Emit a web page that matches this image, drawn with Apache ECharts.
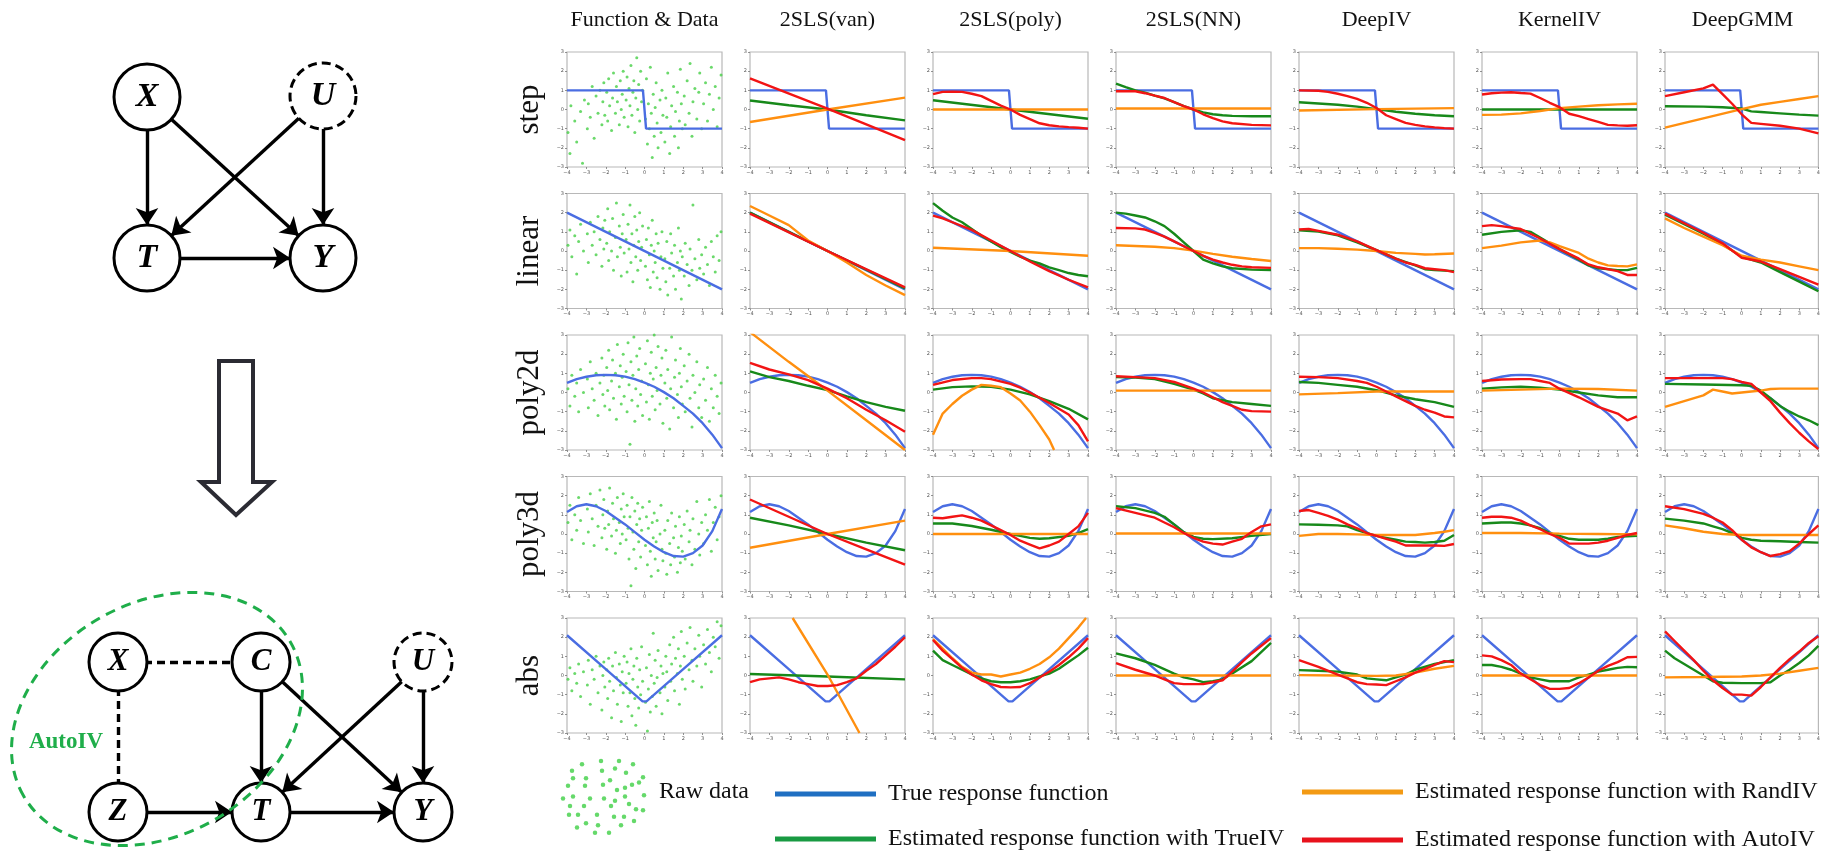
<!DOCTYPE html>
<html>
<head>
<meta charset="utf-8">
<script src="https://cdn.jsdelivr.net/npm/echarts@6/dist/echarts.min.js"></script>
<style>
  html, body { margin: 0; padding: 0; background: #fff; }
  #chart { width: 1823px; height: 852px; }
</style>
</head>
<body>
<div id="chart"></div>
<script>
// ---- labels ----
const methods = ['Function & Data', '2SLS(van)', '2SLS(poly)', '2SLS(NN)', 'DeepIV', 'KernelIV', 'DeepGMM'];
const functions = ['step', 'linear', 'poly2d', 'poly3d', 'abs'];
const legendLabels = ['Raw data', 'True response function', 'Estimated response function with TrueIV',
  'Estimated response function with RandIV', 'Estimated response function with AutoIV'];

// ---- true response functions ----
const trueStep = [[-4, 1], [-0.08, 1], [0.08, -1], [4, -1]];
const trueLinear = [[-4, 2], [4, -2]];
const truePoly2d = [[-4, 0.5], [-3.5, 0.7], [-3, 0.82], [-2.5, 0.9], [-2, 0.92], [-1.5, 0.9], [-1, 0.83], [-0.5, 0.7], [0, 0.52], [0.5, 0.3], [1, 0.02], [1.5, -0.3], [2, -0.7], [2.5, -1.1], [3, -1.6], [3.5, -2.2], [4, -2.9]];
const truePoly3d = [[-4, 1.15], [-3.5, 1.45], [-3, 1.55], [-2.5, 1.45], [-2, 1.2], [-1.5, 0.85], [-1, 0.5], [-0.5, 0.1], [0, -0.3], [0.5, -0.65], [1, -0.95], [1.5, -1.15], [2, -1.18], [2.5, -1.0], [3, -0.6], [3.5, 0.15], [4, 1.3]];
const trueAbs = [[-4, 2.1], [-2, 0.33], [-0.1, -1.35], [0, -1.45], [0.1, -1.35], [2, 0.33], [4, 2.1]];

// ---- estimates, one curve per method: van, poly, NN, DeepIV, KernelIV, DeepGMM ----
const trueIvStep = [
  [[-4, 0.47], [-2, 0.22], [0, 0], [2, -0.3], [4, -0.57]],
  [[-4, 0.48], [0, 0], [4, -0.48]],
  [[-4, 1.35], [-3.5, 1.17], [-3, 1.0], [-2.5, 0.88], [-2, 0.72], [-1.5, 0.58], [-1, 0.38], [-0.5, 0.18], [0, 0], [0.5, -0.15], [1, -0.25], [1.5, -0.3], [2, -0.33], [3, -0.35], [4, -0.35]],
  [[-4, 0.38], [-2, 0.25], [-1, 0.15], [0, 0.02], [1, -0.12], [2, -0.22], [3, -0.3], [4, -0.35]],
  [[-4, 0], [4, 0]],
  [[-4, 0.17], [-2, 0.15], [-1, 0.12], [0, 0.05], [0.5, -0.1], [1, -0.13], [2, -0.2], [3, -0.27], [4, -0.32]]
];
const randIvStep = [
  [[-4, -0.65], [0, 0], [4, 0.62]],
  [[-4, 0], [4, 0]],
  [[-4, 0.05], [4, 0.05]],
  [[-4, -0.05], [0, 0.02], [4, 0.07]],
  [[-4, -0.28], [-3, -0.27], [-2, -0.2], [-1, -0.08], [0, 0.07], [1, 0.15], [2, 0.22], [3, 0.27], [4, 0.3]],
  [[-4, -0.95], [0, 0.02], [1, 0.25], [2, 0.4], [3, 0.55], [4, 0.7]]
];
const autoIvStep = [
  [[-4, 1.62], [0, 0.05], [4, -1.6]],
  [[-4, 0.8], [-3.5, 0.92], [-3, 0.93], [-2.5, 0.92], [-2, 0.82], [-1.5, 0.7], [-1, 0.45], [-0.5, 0.2], [0, 0], [0.5, -0.28], [1, -0.5], [1.5, -0.72], [2, -0.82], [2.5, -0.88], [3, -0.92], [3.5, -0.95], [4, -1]],
  [[-4, 0.95], [-3, 0.95], [-2.5, 0.85], [-2, 0.72], [-1.5, 0.6], [-1, 0.38], [-0.5, 0.18], [0, 0], [0.5, -0.25], [1, -0.45], [1.5, -0.62], [2, -0.72], [3, -0.8], [4, -0.83]],
  [[-4, 1], [-3, 0.98], [-2.5, 0.92], [-2, 0.82], [-1.5, 0.7], [-1, 0.55], [-0.5, 0.35], [0, 0.08], [0.5, -0.3], [1, -0.5], [1.5, -0.7], [2, -0.8], [2.5, -0.88], [3, -0.93], [3.5, -0.97], [4, -1]],
  [[-4, 0.78], [-3.5, 0.85], [-3, 0.88], [-2.5, 0.9], [-2, 0.86], [-1.5, 0.83], [-1, 0.6], [-0.5, 0.35], [0, 0.12], [0.5, -0.22], [1, -0.35], [1.5, -0.5], [2, -0.65], [2.5, -0.8], [3, -0.83], [3.5, -0.85], [4, -0.82]],
  [[-4, 0.7], [-3, 0.9], [-2, 1.1], [-1.5, 1.3], [-1, 0.8], [-0.5, 0.3], [0, -0.25], [0.5, -0.7], [1, -0.75], [2, -0.85], [3, -1.0], [4, -1.25]]
];

const trueIvLinear = [
  [[-4, 2.0], [0, 0], [4, -1.95]],
  [[-4, 2.5], [-3.5, 2.1], [-3, 1.75], [-2.5, 1.5], [-2, 1.15], [-1.5, 0.8], [-1, 0.5], [-0.5, 0.2], [0, -0.05], [0.5, -0.3], [1, -0.5], [1.5, -0.65], [2, -0.85], [2.5, -1.0], [3, -1.15], [3.5, -1.25], [4, -1.32]],
  [[-4, 2.0], [-3.5, 1.95], [-3, 1.85], [-2.5, 1.75], [-2, 1.55], [-1.5, 1.3], [-1, 0.9], [-0.5, 0.45], [0, 0], [0.5, -0.45], [1, -0.65], [1.5, -0.8], [2, -0.9], [3, -0.97], [4, -1.0]],
  [[-4, 1.08], [-3, 1.02], [-2, 0.82], [-1, 0.45], [0, 0.05], [1, -0.4], [2, -0.75], [2.5, -0.95], [3, -1.0], [4, -1.05]],
  [[-4, 0.85], [-3, 1.0], [-2, 1.08], [-1.5, 1.0], [-1, 0.7], [0, 0.1], [1, -0.45], [1.5, -0.75], [2, -0.9], [3, -1.0], [3.5, -1.0], [4, -0.88]],
  [[-4, 1.9], [-3, 1.4], [-2, 0.9], [-1, 0.35], [0, -0.3], [1, -0.6], [2, -1.1], [3, -1.6], [4, -2.1]]
];
const randIvLinear = [
  [[-4, 2.35], [-3, 1.85], [-2, 1.35], [-1, 0.55], [0, 0], [1, -0.6], [2, -1.25], [3, -1.8], [4, -2.3]],
  [[-4, 0.17], [0, 0], [4, -0.25]],
  [[-4, 0.3], [-2, 0.22], [-1, 0.15], [0, 0.02], [1, -0.15], [2, -0.3], [3, -0.42], [4, -0.52]],
  [[-4, 0.15], [-3, 0.15], [-2, 0.12], [-1, 0.07], [0, 0], [1, -0.1], [2, -0.15], [2.5, -0.18], [3, -0.17], [4, -0.13]],
  [[-4, 0.15], [-3, 0.28], [-2, 0.45], [-1, 0.55], [-0.5, 0.45], [0, 0.25], [1, -0.1], [1.5, -0.4], [2, -0.6], [2.5, -0.75], [3, -0.78], [3.5, -0.8], [4, -0.7]],
  [[-4, 1.7], [-3, 1.2], [-2, 0.75], [-1, 0.3], [0, -0.25], [1, -0.45], [2, -0.6], [3, -0.8], [4, -1.0]]
];
const autoIvLinear = [
  [[-4, 1.95], [0, 0], [4, -1.9]],
  [[-4, 1.85], [-3.5, 1.7], [-3, 1.5], [-2, 1.1], [-1, 0.55], [0, 0], [1, -0.55], [2, -1.05], [3, -1.5], [4, -1.9]],
  [[-4, 1.2], [-3, 1.18], [-2.5, 1.12], [-2, 0.95], [-1.5, 0.75], [-1, 0.5], [-0.5, 0.25], [0, 0], [0.5, -0.25], [1, -0.45], [1.5, -0.6], [2, -0.72], [2.5, -0.8], [3, -0.85], [4, -0.88]],
  [[-4, 1.12], [-3.5, 1.15], [-3, 1.05], [-2, 0.85], [-1, 0.5], [0, 0.05], [1, -0.4], [1.5, -0.6], [2, -0.72], [2.5, -0.9], [3, -0.95], [3.5, -1.0], [4, -1.1]],
  [[-4, 1.3], [-3.5, 1.35], [-3, 1.3], [-2, 1.15], [-1, 0.65], [0, 0.1], [1, -0.4], [1.5, -0.7], [2, -0.85], [3, -1.05], [3.5, -1.25], [4, -1.25]],
  [[-4, 1.95], [-3, 1.45], [-2, 0.95], [-1, 0.4], [0, -0.35], [1, -0.55], [2, -0.95], [3, -1.35], [4, -1.75]]
];

const trueIvPoly2d = [
  [[-4, 1.1], [-3, 0.8], [-2, 0.6], [-1, 0.35], [0, 0.12], [1, -0.2], [2, -0.5], [3, -0.75], [4, -0.95]],
  [[-4, 0.15], [-3, 0.28], [-2, 0.32], [-1, 0.3], [0, 0.15], [1, -0.1], [2, -0.45], [3, -0.85], [4, -1.4]],
  [[-4, 0.8], [-3, 0.78], [-2, 0.7], [-1, 0.45], [0, 0.15], [0.5, -0.05], [1, -0.3], [2, -0.5], [3, -0.6], [4, -0.7]],
  [[-4, 0.55], [-3, 0.5], [-2, 0.4], [-1, 0.3], [0, 0.12], [1, -0.15], [2, -0.35], [3, -0.5], [4, -0.75]],
  [[-4, 0.2], [-3, 0.27], [-2, 0.3], [-1, 0.25], [0, 0.15], [1, 0], [2, -0.15], [3, -0.25], [4, -0.25]],
  [[-4, 0.45], [-2, 0.42], [0, 0.38], [0.5, 0.35], [1, 0.1], [1.5, -0.3], [2, -0.7], [2.5, -1.0], [3, -1.25], [3.5, -1.45], [4, -1.7]]
];
const randIvPoly2d = [
  [[-4, 3.15], [-2, 1.6], [0, 0.1], [2, -1.45], [4, -3.0]],
  [[-4, -2.2], [-3.5, -1.1], [-3, -0.6], [-2.5, -0.17], [-2, 0.15], [-1.5, 0.4], [-1, 0.35], [-0.5, 0.28], [0, -0.05], [0.5, -0.42], [1, -1.0], [1.5, -1.7], [2, -2.45], [2.25, -3.0]],
  [[-4, 0.1], [4, 0.1]],
  [[-4, -0.1], [-2, -0.03], [0, 0.05], [2, 0.05], [4, 0.05]],
  [[-4, 0.1], [-2, 0.15], [0, 0.2], [2, 0.18], [4, 0.1]],
  [[-4, -0.75], [-3, -0.45], [-2, -0.15], [-1.5, 0.15], [-1, 0.05], [-0.5, -0.05], [0, 0], [0.5, 0.05], [1, 0.1], [1.5, 0.18], [2, 0.2], [4, 0.2]]
];
const autoIvPoly2d = [
  [[-4, 1.55], [-3, 1.2], [-2, 0.95], [-1, 0.65], [0, 0.2], [1, -0.3], [2, -0.9], [3, -1.45], [4, -2.05]],
  [[-4, 0.4], [-3, 0.65], [-2, 0.75], [-1.5, 0.75], [-1, 0.7], [0, 0.45], [0.5, 0.25], [1, 0], [2, -0.55], [3, -1.15], [3.5, -1.7], [4, -2.55]],
  [[-4, 0.85], [-3, 0.8], [-2, 0.75], [-1, 0.55], [0, 0.2], [0.5, 0], [1, -0.25], [1.5, -0.5], [2, -0.7], [2.5, -0.9], [3, -0.97], [4, -1.0]],
  [[-4, 0.82], [-3, 0.8], [-2, 0.75], [-1, 0.6], [-0.5, 0.5], [0, 0.3], [0.5, 0.05], [1, -0.2], [1.5, -0.45], [2, -0.7], [2.5, -0.9], [3, -1.05], [3.5, -1.25], [4, -1.3]],
  [[-4, 0.6], [-3, 0.68], [-2, 0.7], [-1.5, 0.7], [-1, 0.6], [-0.5, 0.5], [0, 0.2], [1, -0.25], [2, -0.75], [3, -1.1], [3.5, -1.45], [4, -1.25]],
  [[-4, 0.75], [-1, 0.75], [-0.5, 0.7], [0, 0.55], [0.5, 0.45], [1, 0], [1.5, -0.45], [2, -1.05], [2.5, -1.6], [3, -2.1], [3.5, -2.55], [4, -2.95]]
];

const trueIvPoly3d = [
  [[-4, 0.85], [-2, 0.45], [0, 0], [2, -0.45], [4, -0.85]],
  [[-4, 0.55], [-3, 0.55], [-2, 0.42], [-1, 0.22], [0, 0], [0.5, -0.1], [1, -0.2], [1.5, -0.25], [2, -0.22], [3, -0.1], [3.5, 0.05], [4, 0.25]],
  [[-4, 1.45], [-3, 1.35], [-2, 1.1], [-1.5, 0.9], [-1, 0.5], [-0.5, 0.1], [0, -0.15], [0.5, -0.25], [1, -0.27], [2, -0.22], [3, -0.1], [4, 0]],
  [[-4, 0.5], [-3, 0.48], [-2, 0.45], [-1.5, 0.4], [-1, 0.2], [-0.5, 0.05], [0, -0.1], [0.5, -0.2], [1, -0.3], [1.5, -0.4], [2, -0.42], [2.5, -0.45], [3, -0.42], [3.5, -0.35], [4, -0.05]],
  [[-4, 0.55], [-3, 0.6], [-2.5, 0.6], [-2, 0.55], [-1.5, 0.45], [-1, 0.3], [-0.5, 0.05], [0, -0.1], [0.5, -0.25], [1, -0.3], [2, -0.3], [2.5, -0.25], [3, -0.15], [4, -0.1]],
  [[-4, 0.8], [-3, 0.7], [-2, 0.55], [-1.5, 0.4], [-1, 0.25], [-0.5, 0.05], [0, -0.2], [0.5, -0.3], [1, -0.35], [2, -0.38], [3, -0.42], [4, -0.45]]
];
const randIvPoly3d = [
  [[-4, -0.72], [0, 0], [4, 0.7]],
  [[-4, 0], [4, 0]],
  [[-4, 0.03], [4, 0.03]],
  [[-4, -0.1], [-3, 0], [-2, 0], [-1, -0.02], [0, -0.05], [1, -0.05], [2, -0.05], [2.5, 0], [3, 0.05], [3.5, 0.12], [4, 0.2]],
  [[-4, 0.05], [-2, 0.05], [0, 0.02], [2, 0], [4, -0.02]],
  [[-4, 0.45], [-3, 0.3], [-2, 0.12], [-1, 0], [0, -0.05], [4, -0.05]]
];
const autoIvPoly3d = [
  [[-4, 1.8], [-2, 0.9], [0, 0], [2, -0.8], [4, -1.6]],
  [[-4, 0.85], [-3.5, 0.82], [-3, 0.9], [-2.5, 0.97], [-2, 0.85], [-1.5, 0.7], [-1, 0.45], [-0.5, 0.2], [0, -0.05], [0.5, -0.35], [1, -0.55], [1.5, -0.75], [2, -0.6], [2.5, -0.4], [3, 0], [3.5, 0.4], [4, 1.1]],
  [[-4, 1.35], [-3, 1.1], [-2, 0.85], [-1.5, 0.6], [-1, 0.35], [-0.5, 0.05], [0, -0.2], [0.5, -0.4], [1, -0.5], [1.5, -0.55], [2, -0.4], [2.5, -0.25], [3, 0.1], [3.5, 0.4], [4, 0.5]],
  [[-4, 1.2], [-3.5, 1.25], [-3, 1.1], [-2.5, 0.95], [-2, 0.75], [-1.5, 0.5], [-1, 0.3], [-0.5, 0.05], [0, -0.1], [0.5, -0.25], [1, -0.4], [1.5, -0.6], [2, -0.6], [3, -0.6], [3.5, -0.62], [4, -0.52]],
  [[-4, 0.85], [-3.5, 0.9], [-3, 0.9], [-2.5, 0.85], [-2, 0.7], [-1.5, 0.45], [-1, 0.25], [-0.5, 0], [0, -0.2], [0.5, -0.5], [1, -0.5], [1.5, -0.5], [2, -0.45], [2.5, -0.35], [3, -0.2], [3.5, -0.05], [4, 0.05]],
  [[-4, 1.45], [-3, 1.3], [-2, 1.05], [-1.5, 0.85], [-1, 0.6], [-0.5, 0.2], [0, -0.3], [0.5, -0.7], [1, -0.95], [1.5, -1.15], [2, -1.05], [2.5, -0.9], [3, -0.5], [3.5, 0], [4, 0.45]]
];

const trueIvAbs = [
  [[-4, 0.08], [0, -0.05], [4, -0.2]],
  [[-4, 1.3], [-3.5, 0.8], [-3, 0.55], [-2.5, 0.3], [-2, 0.05], [-1.5, -0.15], [-1, -0.3], [-0.5, -0.35], [0, -0.35], [0.5, -0.3], [1, -0.2], [1.5, -0.05], [2, 0.1], [2.5, 0.35], [3, 0.7], [3.5, 1.05], [4, 1.45]],
  [[-4, 1.15], [-3, 0.9], [-2, 0.55], [-1, 0.1], [-0.5, -0.1], [0, -0.2], [0.5, -0.35], [1, -0.3], [1.5, -0.2], [2, 0.1], [3, 0.75], [4, 1.7]],
  [[-4, 0.28], [-3, 0.25], [-2, 0.2], [-1, 0.05], [-0.5, -0.15], [0, -0.2], [0.5, -0.25], [1, -0.1], [1.5, 0.05], [2, 0.3], [3, 0.6], [4, 0.8]],
  [[-4, 0.55], [-3.5, 0.55], [-3, 0.45], [-2.5, 0.3], [-2, 0.1], [-1.5, -0.1], [-1, -0.2], [-0.5, -0.3], [0, -0.3], [0.5, -0.3], [1, -0.1], [1.5, 0.05], [2, 0.2], [2.5, 0.3], [3, 0.4], [3.5, 0.45], [4, 0.43]],
  [[-4, 1.3], [-3.5, 0.9], [-3, 0.6], [-2.5, 0.3], [-2, 0], [-1.5, -0.3], [-1, -0.38], [0, -0.4], [1, -0.4], [1.5, -0.35], [2, 0], [2.5, 0.3], [3, 0.65], [3.5, 1.05], [4, 1.55]]
];
const randIvAbs = [
  [[-1.8, 3.0], [0, 0.05], [1.65, -3.0]],
  [[-4, 1.9], [-3.5, 1.4], [-3, 0.9], [-2.5, 0.45], [-2, 0.15], [-1.5, 0.05], [-1, 0.05], [-0.5, -0.05], [0, 0.05], [0.5, 0.15], [1, 0.35], [1.5, 0.6], [2, 0.95], [2.5, 1.4], [3, 1.95], [3.5, 2.5], [3.9, 3.0]],
  [[-4, 0], [4, 0]],
  [[-4, 0.02], [-2, 0], [0, -0.02], [1, 0], [2, 0.15], [3, 0.35], [4, 0.5]],
  [[-4, 0], [4, 0]],
  [[-4, -0.1], [-2, -0.08], [0, -0.05], [1, 0], [2, 0.1], [3, 0.25], [4, 0.4]]
];
const autoIvAbs = [
  [[-4, -0.35], [-3.5, -0.2], [-3, -0.15], [-2.5, -0.1], [-2, -0.2], [-1.5, -0.35], [-1, -0.45], [-0.5, -0.55], [0, -0.55], [0.5, -0.5], [1, -0.35], [1.5, -0.15], [2, 0.25], [2.5, 0.6], [3, 1.05], [3.5, 1.5], [4, 2.0]],
  [[-4, 1.85], [-3.5, 1.3], [-3, 0.85], [-2.5, 0.4], [-2, 0.05], [-1.5, -0.25], [-1, -0.45], [-0.5, -0.6], [0, -0.62], [0.5, -0.6], [1, -0.4], [1.5, -0.1], [2, 0.2], [2.5, 0.55], [3, 0.95], [3.5, 1.4], [4, 1.95]],
  [[-4, 0.65], [-3, 0.3], [-2, 0], [-1.5, -0.2], [-1, -0.4], [-0.5, -0.45], [0, -0.45], [0.5, -0.45], [1, -0.35], [1.5, -0.25], [2, 0.2], [2.5, 0.7], [3, 1.15], [3.5, 1.55], [4, 1.95]],
  [[-4, 0.8], [-3, 0.45], [-2, 0.05], [-1.5, -0.15], [-1, -0.35], [-0.5, -0.45], [0, -0.47], [0.5, -0.5], [1, -0.3], [1.5, -0.1], [2, 0.15], [2.5, 0.35], [3, 0.55], [3.5, 0.75], [4, 0.7]],
  [[-4, 1.05], [-3.5, 1.0], [-3, 0.8], [-2.5, 0.55], [-2, 0.1], [-1.5, -0.2], [-1, -0.5], [-0.5, -0.7], [0, -0.7], [0.5, -0.65], [1, -0.4], [1.5, -0.1], [2, 0.25], [2.5, 0.5], [3, 0.7], [3.5, 0.95], [4, 0.97]],
  [[-4, 2.3], [-3.5, 1.8], [-3, 1.3], [-2.5, 0.8], [-2, 0.25], [-1.5, -0.25], [-1, -0.65], [-0.5, -1.0], [0, -1.0], [0.5, -1.05], [1, -0.6], [1.5, -0.1], [2, 0.4], [2.5, 0.85], [3, 1.25], [3.5, 1.7], [4, 2.05]]
];

// ---- raw data samples ----
const rawStep = [[-3.95,-1.2],[-3.85,-2.3],[-3.8,0.2],[-3.6,-0.6],[-3.5,-1.7],[-3.3,-0.1],[-3.2,-2.8],[-3.1,0.5],
  [-2.95,-1.0],[-2.9,0.3],[-2.8,-0.4],[-2.7,1.2],[-2.6,-1.5],[-2.5,0.7],[-2.4,-0.2],[-2.3,1.0],[-2.2,-0.8],[-2.15,0.4],[-2.1,1.4],[-2.05,-0.3],
  [-1.95,0.9],[-1.9,-0.6],[-1.85,1.6],[-1.8,0.2],[-1.7,-1.1],[-1.65,0.6],[-1.6,1.9],[-1.5,-0.2],[-1.45,1.2],[-1.4,0.4],[-1.3,-0.8],[-1.25,1.5],[-1.2,0.0],[-1.15,0.8],[-1.1,2.0],[-1.05,-0.4],
  [-0.95,0.5],[-0.9,1.7],[-0.85,-0.9],[-0.8,1.1],[-0.75,0.2],[-0.7,2.3],[-0.65,-0.3],[-0.6,0.9],[-0.55,1.5],[-0.5,-1.2],[-0.45,0.6],[-0.4,2.7],[-0.35,0.0],[-0.3,1.3],[-0.25,-0.6],[-0.2,2.0],[-0.15,0.4],[-0.1,1.0],
  [0.05,-0.5],[0.1,1.6],[0.15,-1.8],[0.2,0.3],[0.25,-1.0],[0.3,2.2],[0.35,-0.2],[0.4,-2.5],[0.45,0.8],[0.5,-1.4],[0.55,0.1],[0.6,1.4],[0.65,-0.7],[0.7,-2.0],[0.8,0.5],[0.85,-1.2],[0.9,1.0],[0.95,-0.3],
  [1.05,-1.7],[1.1,0.6],[1.15,-0.4],[1.2,1.9],[1.3,-2.3],[1.35,-0.9],[1.4,0.2],[1.5,1.2],[1.55,-1.4],[1.6,-0.1],[1.7,0.9],[1.75,-2.0],[1.8,-0.6],[1.85,2.1],[1.9,0.3],[1.95,-1.0],
  [2.05,0.7],[2.1,-0.8],[2.2,1.5],[2.3,-0.2],[2.35,2.4],[2.45,-1.4],[2.5,0.4],[2.6,1.1],[2.7,-0.5],[2.8,0.9],[2.85,1.9],[2.95,-1.0],
  [3.05,0.3],[3.15,1.4],[3.25,-0.6],[3.35,0.8],[3.45,2.2],[3.55,0.0],[3.65,1.2],[3.75,-0.9],[3.85,0.6],[3.95,1.8]];
const rawLinear = [[-3.95,0.3],[-3.85,1.1],[-3.75,-0.3],[-3.6,0.8],[-3.5,-1.2],[-3.4,0.5],[-3.3,1.4],[-3.15,0.0],
  [-2.95,0.9],[-2.9,-0.6],[-2.8,1.5],[-2.7,0.3],[-2.6,1.0],[-2.5,-0.2],[-2.4,1.8],[-2.3,0.6],[-2.2,-0.8],[-2.15,1.2],[-2.1,0.1],[-2.05,1.6],
  [-1.95,0.4],[-1.9,2.2],[-1.85,-0.5],[-1.8,1.0],[-1.7,0.0],[-1.65,1.7],[-1.6,-1.0],[-1.5,0.7],[-1.45,2.5],[-1.4,-0.3],[-1.3,1.3],[-1.25,0.2],[-1.2,-1.3],[-1.15,0.9],[-1.1,1.9],[-1.05,-0.1],
  [-0.95,0.6],[-0.9,-1.1],[-0.85,1.4],[-0.8,0.1],[-0.75,2.4],[-0.7,-0.6],[-0.65,0.9],[-0.6,-1.6],[-0.55,0.3],[-0.5,1.8],[-0.45,-0.3],[-0.4,1.1],[-0.35,-1.0],[-0.3,0.5],[-0.25,2.0],[-0.2,-0.5],[-0.15,0.2],[-0.1,1.3],
  [0.05,-0.8],[0.1,0.6],[0.15,-1.5],[0.2,1.2],[0.25,-0.2],[0.3,-1.9],[0.35,0.3],[0.4,1.6],[0.45,-1.1],[0.5,0.0],[0.55,-0.6],[0.6,0.9],[0.65,-1.4],[0.7,0.4],[0.8,-2.0],[0.85,-0.3],[0.9,1.0],[0.95,-0.9],
  [1.05,-0.4],[1.1,-1.6],[1.15,0.5],[1.2,-2.3],[1.3,-0.9],[1.35,0.9],[1.4,-0.1],[1.5,-1.3],[1.55,0.3],[1.6,-2.0],[1.7,-0.6],[1.75,1.2],[1.8,-1.0],[1.85,0.0],[1.9,-2.5],[1.95,-0.3],
  [2.05,-1.3],[2.1,0.4],[2.2,-0.7],[2.3,-1.8],[2.35,0.1],[2.45,-1.0],[2.5,2.4],[2.6,-0.4],[2.7,-1.5],[2.8,0.6],[2.85,-0.9],[2.95,-0.2],
  [3.05,-1.2],[3.15,0.2],[3.25,-0.7],[3.35,-1.8],[3.45,0.5],[3.55,-0.3],[3.65,-1.1],[3.75,0.8],[3.85,-0.5],[3.95,1.0]];
const rawPoly2d = [[-3.95,0.2],[-3.85,-0.7],[-3.75,0.9],[-3.6,-0.2],[-3.5,0.5],[-3.4,-1.0],[-3.3,1.2],[-3.15,0.0],
  [-2.95,0.7],[-2.9,-0.8],[-2.8,1.6],[-2.7,0.2],[-2.6,-0.4],[-2.5,1.0],[-2.4,-1.2],[-2.3,0.5],[-2.2,1.8],[-2.15,-0.1],[-2.1,0.9],[-2.05,-0.7],
  [-1.95,1.3],[-1.9,0.1],[-1.85,2.2],[-1.8,-0.9],[-1.7,0.6],[-1.65,1.7],[-1.6,-0.3],[-1.5,1.0],[-1.45,-1.4],[-1.4,2.5],[-1.3,0.3],[-1.25,1.4],[-1.2,-0.6],[-1.15,0.8],[-1.1,2.0],[-1.05,-0.2],
  [-0.95,1.1],[-0.9,-1.0],[-0.85,2.6],[-0.8,0.4],[-0.75,-2.7],[-0.7,1.6],[-0.65,-0.4],[-0.6,0.9],[-0.55,2.9],[-0.5,-1.5],[-0.45,0.2],[-0.4,1.9],[-0.35,-0.7],[-0.3,1.2],[-0.25,2.3],[-0.2,-0.1],[-0.15,0.6],[-0.1,-1.2],
  [0.05,1.5],[0.1,-0.5],[0.15,2.7],[0.2,0.4],[0.25,-1.4],[0.3,1.0],[0.35,2.1],[0.4,-0.2],[0.45,0.7],[0.5,3.0],[0.55,-0.9],[0.6,1.3],[0.65,0.1],[0.7,2.4],[0.8,-0.6],[0.85,0.9],[0.9,1.8],[0.95,-1.6],
  [1.05,0.5],[1.1,2.2],[1.15,-0.3],[1.2,1.2],[1.3,-1.9],[1.35,0.2],[1.4,2.9],[1.5,-0.8],[1.55,0.8],[1.6,1.7],[1.7,-0.1],[1.75,-1.3],[1.8,1.0],[1.85,2.3],[1.9,0.3],[1.95,-0.6],
  [2.05,1.4],[2.1,-1.0],[2.2,0.6],[2.3,2.0],[2.35,-0.3],[2.45,-1.8],[2.5,0.9],[2.6,0.0],[2.7,1.6],[2.8,-0.8],[2.85,0.4],[2.95,-1.3],
  [3.05,0.7],[3.15,-0.4],[3.25,1.3],[3.35,-1.5],[3.45,0.2],[3.55,-0.8],[3.65,0.9],[3.75,-0.2],[3.85,-1.1],[3.95,0.5]];
const rawPoly3d = [[-3.95,0.6],[-3.85,1.5],[-3.75,-0.3],[-3.6,1.0],[-3.5,0.2],[-3.4,1.9],[-3.3,0.7],[-3.15,-0.5],
  [-2.95,1.3],[-2.9,0.1],[-2.8,2.1],[-2.7,0.8],[-2.6,-0.6],[-2.5,1.5],[-2.4,0.4],[-2.3,2.3],[-2.2,-0.2],[-2.15,1.0],[-2.1,1.8],[-2.05,0.3],
  [-1.95,-0.8],[-1.9,1.2],[-1.85,0.5],[-1.8,2.4],[-1.7,-0.1],[-1.65,1.6],[-1.6,0.8],[-1.5,-1.0],[-1.45,0.2],[-1.4,1.9],[-1.3,0.6],[-1.25,-0.5],[-1.2,1.3],[-1.15,0.0],[-1.1,2.1],[-1.05,0.9],
  [-0.95,-0.3],[-0.9,1.5],[-0.85,0.3],[-0.8,-1.3],[-0.75,0.9],[-0.7,-2.7],[-0.65,1.9],[-0.6,0.1],[-0.55,-0.8],[-0.5,1.2],[-0.45,-1.8],[-0.4,0.5],[-0.35,1.6],[-0.3,-0.4],[-0.25,0.8],[-0.2,-1.2],[-0.15,0.2],[-0.1,1.4],
  [0.05,-0.6],[0.1,0.9],[0.15,-1.6],[0.2,0.3],[0.25,1.7],[0.3,-0.9],[0.35,-2.2],[0.4,0.6],[0.45,-0.2],[0.5,1.1],[0.55,-1.3],[0.6,-0.4],[0.65,0.7],[0.7,-1.9],[0.8,0.0],[0.85,1.5],[0.9,-0.8],[0.95,-1.4],
  [1.05,0.2],[1.1,-1.0],[1.15,-2.1],[1.2,0.7],[1.3,-0.5],[1.35,-1.6],[1.4,1.1],[1.5,-0.2],[1.55,-1.2],[1.6,0.4],[1.7,-2.0],[1.75,-0.7],[1.8,0.9],[1.85,-1.5],[1.9,-0.1],[1.95,-0.9],
  [2.05,0.5],[2.1,-1.3],[2.2,1.2],[2.3,-0.4],[2.35,0.2],[2.45,-1.6],[2.5,0.8],[2.6,-0.8],[2.7,1.7],[2.8,0.0],[2.85,-1.1],[2.95,0.6],
  [3.05,-0.5],[3.15,1.0],[3.25,0.2],[3.35,1.8],[3.45,-0.9],[3.55,0.6],[3.65,1.4],[3.75,-0.3],[3.85,0.9],[3.95,2.0]];
const rawAbs = [[-3.95,-0.2],[-3.85,0.4],[-3.75,-0.8],[-3.6,0.1],[-3.5,-0.4],[-3.4,0.6],[-3.3,-1.1],[-3.15,0.2],
  [-2.95,-0.5],[-2.9,0.8],[-2.8,-1.5],[-2.7,0.3],[-2.6,-0.2],[-2.5,1.0],[-2.4,-0.9],[-2.3,0.5],[-2.2,-1.8],[-2.15,0.0],[-2.1,0.7],[-2.05,-0.6],
  [-1.95,0.3],[-1.9,-1.2],[-1.85,0.9],[-1.8,-0.3],[-1.7,-2.2],[-1.65,0.5],[-1.6,-0.8],[-1.5,1.2],[-1.45,-0.1],[-1.4,-1.5],[-1.3,0.6],[-1.25,-0.5],[-1.2,-2.4],[-1.15,0.2],[-1.1,-0.9],[-1.05,1.0],
  [-0.95,-0.4],[-0.9,0.7],[-0.85,-1.6],[-0.8,0.1],[-0.75,-0.9],[-0.7,1.4],[-0.65,-2.1],[-0.6,-0.2],[-0.55,0.5],[-0.5,-1.2],[-0.45,-2.6],[-0.4,0.9],[-0.35,-0.6],[-0.3,-1.7],[-0.25,0.3],[-0.2,-1.0],[-0.15,1.5],[-0.1,-0.3],
  [0.05,-1.4],[0.1,0.4],[0.15,-2.9],[0.2,-0.7],[0.25,1.1],[0.3,-1.9],[0.35,0.0],[0.4,-1.1],[0.45,2.2],[0.5,-0.4],[0.55,0.8],[0.6,-1.6],[0.65,-0.1],[0.7,1.3],[0.8,-0.9],[0.85,0.5],[0.9,-2.0],[0.95,0.1],
  [1.05,-0.6],[1.1,1.0],[1.15,0.2],[1.2,-1.3],[1.3,1.6],[1.35,-0.3],[1.4,0.6],[1.5,2.0],[1.55,-0.8],[1.6,0.9],[1.7,0.1],[1.75,1.4],[1.8,-1.5],[1.85,0.5],[1.9,2.3],[1.95,-0.2],
  [2.05,1.0],[2.1,-0.7],[2.2,1.7],[2.3,0.3],[2.35,2.5],[2.45,0.8],[2.5,-0.3],[2.6,1.4],[2.7,0.5],[2.8,2.1],[2.85,1.0],[2.95,-0.6],
  [3.05,1.6],[3.15,0.6],[3.25,2.4],[3.35,1.2],[3.45,0.2],[3.55,2.0],[3.65,1.5],[3.75,2.8],[3.85,0.9],[3.95,2.6]];

// legend swatch dots (relative units inside the swatch)
const legendDots = [[20,4],[39,1],[57,1],[71,4],[10,10],[40,10],[53,8],[64,12],[11,17],[24,17],[48,19],[81,16],
  [6,24],[23,24],[41,23],[55,28],[63,26],[70,23],[77,21],[11,34],[28,36],[42,36],[53,38],[63,34],[82,33],[1,36],
  [8,43],[22,43],[49,43],[67,41],[74,46],[81,47],[7,51],[16,51],[35,51],[52,53],[62,53],[24,59],[36,61],[59,61],
  [72,57],[15,63],[33,68],[47,68]];

// ---- causal graphs (positions in the left pane, px units of its axes) ----
const dagNodes = [['X1','X',147,97],['U1','U',323,96],['T1','T',147,258],['Y1','Y',323,258],
  ['X2','X',118,662],['C2','C',261,662],['U2','U',423,662],['Z2','Z',118,812],['T2','T',261,812],['Y2','Y',423,812]];
const latentNodes = ['U1', 'U2'];
const dagEdges = [['X1','T1'],['X1','Y1'],['U1','T1'],['U1','Y1'],['T1','Y1'],
  ['X2','C2','assoc'],['X2','Z2','assoc'],['Z2','T2'],['C2','T2'],['C2','Y2'],['U2','T2'],['U2','Y2'],['T2','Y2']];
const autoIvRegion = [[157, 719, 154, 116, 30]]; // cx, cy, rx, ry, tilt(deg)
const transformArrow = [[219,361],[253,361],[253,482],[272,482],[236,515],[201,482],[219,482]];

const trueRows = [trueStep, trueLinear, truePoly2d, truePoly3d, trueAbs];
const rawRows = [rawStep, rawLinear, rawPoly2d, rawPoly3d, rawAbs];
const trueIvRows = [trueIvStep, trueIvLinear, trueIvPoly2d, trueIvPoly3d, trueIvAbs];
const randIvRows = [randIvStep, randIvLinear, randIvPoly2d, randIvPoly3d, randIvAbs];
const autoIvRows = [autoIvStep, autoIvLinear, autoIvPoly2d, autoIvPoly3d, autoIvAbs];

const SERIF = '"Liberation Serif", "Times New Roman", serif';
const C = { truth: '#4a6de2', trueIV: '#17891a', randIV: '#ff8f0f', autoIV: '#f21414', raw: '#46d046' };
const P = { left: 567, dx: 183, top: 52, dy: 141.5, w: 155, h: 115 };

const option = { animation: false, backgroundColor: '#fff', grid: [], xAxis: [], yAxis: [], series: [], graphic: [] };
const minus = v => (v < 0 ? '\u2212' + (-v) : String(v));

function addAxes(idx, min, max, step) {
  const tick = { show: true, length: 2, lineStyle: { color: '#777', width: 0.8 } };
  const lab = { fontSize: 5, color: '#555', margin: 3, formatter: minus, fontFamily: 'DejaVu Sans' };
  const base = { gridIndex: idx, type: 'value', axisLine: { show: false, onZero: false },
    axisTick: tick, axisLabel: lab, splitLine: { show: false } };
  option.xAxis.push(Object.assign({ min: -4, max: 4, interval: 1, position: 'bottom' }, base));
  option.yAxis.push(Object.assign({ min: min, max: max, interval: step, position: 'left' }, base));
}
function line(idx, data, color, z) {
  return { type: 'line', xAxisIndex: idx, yAxisIndex: idx, data: data, showSymbol: false, symbol: 'none',
    clip: true, silent: true, z: z, lineStyle: { color: color, width: 2.4 } };
}

functions.forEach((fn, r) => {
  methods.forEach((m, c) => {
    const idx = r * methods.length + c;
    option.grid.push({ left: P.left + c * P.dx, top: P.top + r * P.dy, width: P.w, height: P.h,
      show: true, borderColor: '#b8b8b8', borderWidth: 1.2, backgroundColor: '#fff' });
    addAxes(idx, -3, 3, 1);
    if (c === 0) {
      option.series.push({ type: 'scatter', xAxisIndex: idx, yAxisIndex: idx, data: rawRows[r], symbolSize: 3,
        silent: true, z: 1, itemStyle: { color: C.raw } });
      option.series.push(line(idx, trueRows[r], C.truth, 2));
    } else {
      option.series.push(line(idx, trueRows[r], C.truth, 2));
      option.series.push(line(idx, trueIvRows[r][c - 1], C.trueIV, 3));
      option.series.push(line(idx, randIvRows[r][c - 1], C.randIV, 4));
      option.series.push(line(idx, autoIvRows[r][c - 1], C.autoIV, 5));
    }
  });
});

// column headers and row labels
methods.forEach((m, c) => {
  option.graphic.push({ type: 'text', x: P.left + c * P.dx + P.w / 2, y: 20, silent: true,
    style: { text: m, fontFamily: SERIF, fontSize: 22, fill: '#111', align: 'center', verticalAlign: 'middle' } });
});
functions.forEach((fn, r) => {
  option.graphic.push({ type: 'text', x: 530, y: P.top + r * P.dy + P.h / 2, rotation: Math.PI / 2, silent: true,
    style: { text: fn, fontFamily: SERIF, fontSize: 31, fill: '#111', align: 'center', verticalAlign: 'middle' } });
});

// causal graph pane
const DAG = methods.length * functions.length;
option.grid.push({ left: 0, top: 0, width: 460, height: 852, show: false });
option.xAxis.push({ gridIndex: DAG, type: 'value', min: 0, max: 460, show: false });
option.yAxis.push({ gridIndex: DAG, type: 'value', min: 0, max: 852, inverse: true, show: false });
option.series.push({
  type: 'custom', xAxisIndex: DAG, yAxisIndex: DAG, data: [[0, 0]], silent: true, z: 1,
  renderItem: (params, api) => ({
    type: 'polygon', shape: { points: transformArrow.map(p => api.coord(p)) },
    style: { fill: '#fff', stroke: '#2b2b33', lineWidth: 4, lineJoin: 'miter' }
  })
});
option.series.push({
  type: 'graph', coordinateSystem: 'cartesian2d', xAxisIndex: DAG, yAxisIndex: DAG, silent: true, z: 3,
  data: dagNodes.map(([id, letter, x, y]) => ({
    name: id, value: [x, y], symbol: 'circle', symbolSize: id.endsWith('1') ? 66 : 58,
    itemStyle: { color: '#fff', borderColor: '#000', borderWidth: 3,
      borderType: latentNodes.includes(id) ? [9, 5] : 'solid' },
    label: { show: true, position: 'inside', formatter: letter, color: '#000', fontFamily: SERIF,
      fontStyle: 'italic', fontWeight: 'bold', fontSize: id.endsWith('1') ? 34 : 31 }
  })),
  links: dagEdges.map(([s, t, kind]) => ({
    source: s, target: t,
    symbol: kind === 'assoc' ? ['none', 'none'] : ['none', 'arrow'],
    lineStyle: { type: kind === 'assoc' ? [8, 5] : 'solid' }
  })),
  edgeSymbol: ['none', 'arrow'], edgeSymbolSize: 17,
  lineStyle: { color: '#000', width: 3.4, opacity: 1, curveness: 0 },
  emphasis: { disabled: true }
});
option.series.push({
  type: 'custom', xAxisIndex: DAG, yAxisIndex: DAG, data: autoIvRegion, silent: true, z: 5,
  renderItem: (params, api) => {
    const ctr = api.coord([api.value(0), api.value(1)]);
    const sz = api.size([api.value(2), api.value(3)]);
    return { type: 'ellipse', x: ctr[0], y: ctr[1], rotation: api.value(4) * Math.PI / 180,
      shape: { cx: 0, cy: 0, rx: sz[0], ry: sz[1] },
      style: { fill: 'none', stroke: '#1fae4a', lineWidth: 3, lineDash: [10, 7] } };
  }
});
option.graphic.push({ type: 'text', x: 66, y: 742, silent: true, z: 10,
  style: { text: 'AutoIV', fontFamily: SERIF, fontWeight: 'bold', fontSize: 23, fill: '#1fae4a', align: 'center', verticalAlign: 'middle' } });

// legend
const LEG = DAG + 1;
option.grid.push({ left: 562, top: 760, width: 85, height: 75, show: false });
option.xAxis.push({ gridIndex: LEG, type: 'value', min: 0, max: 85, show: false });
option.yAxis.push({ gridIndex: LEG, type: 'value', min: 0, max: 70, inverse: true, show: false });
option.series.push({ type: 'scatter', xAxisIndex: LEG, yAxisIndex: LEG, data: legendDots, symbolSize: 4.5,
  silent: true, itemStyle: { color: '#3fcf45' } });

const legendItems = [
  { text: legendLabels[1], color: '#1f6fc2', x: 775, y: 794 },
  { text: legendLabels[2], color: '#189a42', x: 775, y: 839 },
  { text: legendLabels[3], color: '#f39a14', x: 1302, y: 792 },
  { text: legendLabels[4], color: '#e8121c', x: 1302, y: 840 }
];
option.graphic.push({ type: 'text', x: 659, y: 792, silent: true,
  style: { text: legendLabels[0], fontFamily: SERIF, fontSize: 24, fill: '#111', align: 'left', verticalAlign: 'middle' } });
legendItems.forEach(it => {
  option.graphic.push({ type: 'line', silent: true, shape: { x1: it.x, y1: it.y, x2: it.x + 101, y2: it.y },
    style: { stroke: it.color, lineWidth: 5 } });
  option.graphic.push({ type: 'text', x: it.x + 113, y: it.y, silent: true,
    style: { text: it.text, fontFamily: SERIF, fontSize: 24, fill: '#111', align: 'left', verticalAlign: 'middle' } });
});

const chart = echarts.init(document.getElementById('chart'));
chart.setOption(option);
window.addEventListener('resize', () => chart.resize());
</script>
</body>
</html>
